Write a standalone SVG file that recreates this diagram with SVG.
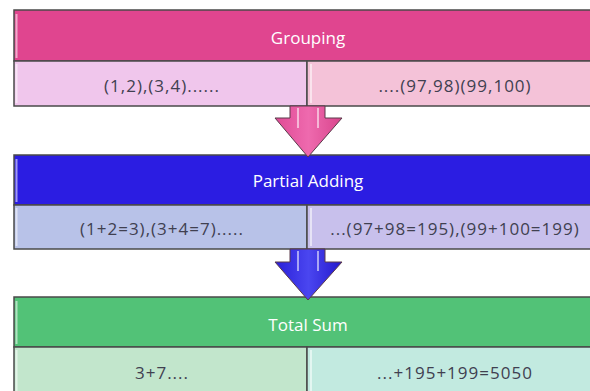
<svg xmlns="http://www.w3.org/2000/svg" width="590" height="391" viewBox="0 0 590 391">
<defs>
<linearGradient id="gPink" x1="0" y1="0" x2="1" y2="0"><stop offset="0" stop-color="#E04A95"/><stop offset="0.5" stop-color="#EE6AAE"/><stop offset="1" stop-color="#D9448C"/></linearGradient>
<linearGradient id="gBlue" x1="0" y1="0" x2="1" y2="0"><stop offset="0" stop-color="#2A1FD8"/><stop offset="0.5" stop-color="#4A46F0"/><stop offset="1" stop-color="#2418CC"/></linearGradient>
</defs>
<style>
.frame{stroke:#4a4a4a;stroke-width:1.5}
.hd{font-family:"Open Sans","Liberation Sans",sans-serif;font-size:17px;fill:#ffffff;text-anchor:middle}
.cell{font-family:"Open Sans","Liberation Sans",sans-serif;font-size:17px;letter-spacing:1px;fill:#404050;text-anchor:middle}
.hl{stroke:#ffffff;stroke-opacity:0.55;stroke-width:2;fill:none}
.arrow{stroke:#5a3a4a;stroke-width:1}
</style>
<rect width="590" height="391" fill="#ffffff"/>
<g id="grouping">
<rect x="14" y="10" width="584" height="51" fill="#E0458F" class="frame"/>
<rect x="14" y="61" width="293" height="45" fill="#F0C6EC" class="frame"/>
<rect x="307" y="61" width="291" height="45" fill="#F4C2D8" class="frame"/>
<line x1="16.5" y1="14" x2="16.5" y2="58" class="hl"/>
<line x1="16.5" y1="64" x2="16.5" y2="103" class="hl"/>
<line x1="311" y1="64" x2="311" y2="103" class="hl"/>
<text x="308" y="44" class="hd">Grouping</text>
<text x="162" y="92" class="cell">(1,2),(3,4)......</text>
<text x="455" y="92" class="cell">....(97,98)(99,100)</text>
</g>
<g id="partial">
<rect x="14" y="155" width="584" height="50" fill="#2B1DE2" class="frame"/>
<rect x="14" y="205" width="293" height="44" fill="#B8C2E8" class="frame"/>
<rect x="307" y="205" width="291" height="44" fill="#C8C0EC" class="frame"/>
<line x1="16.5" y1="159" x2="16.5" y2="202" class="hl"/>
<line x1="16.5" y1="208" x2="16.5" y2="246" class="hl"/>
<line x1="311" y1="208" x2="311" y2="246" class="hl"/>
<text x="308" y="187" class="hd">Partial Adding</text>
<text x="162" y="235" class="cell">(1+2=3),(3+4=7).....</text>
<text x="455" y="235" class="cell">...(97+98=195),(99+100=199)</text>
</g>
<g id="total">
<rect x="14" y="297" width="584" height="50" fill="#52C277" class="frame"/>
<rect x="14" y="347" width="293" height="48" fill="#C2E6CC" class="frame"/>
<rect x="307" y="347" width="291" height="48" fill="#C2EAE0" class="frame"/>
<line x1="16.5" y1="301" x2="16.5" y2="344" class="hl"/>
<line x1="16.5" y1="350" x2="16.5" y2="391" class="hl"/>
<line x1="311" y1="350" x2="311" y2="391" class="hl"/>
<text x="308" y="331" class="hd">Total Sum</text>
<text x="162" y="379" class="cell">3+7....</text>
<text x="455" y="379" class="cell">...+195+199=5050</text>
</g>
<g id="connectors">
<path d="M290 106 L325 106 L325 118 L342 118 L308 157 L275 118 L290 118 Z" fill="url(#gPink)" class="arrow"/>
<line x1="298" y1="108" x2="298" y2="128" class="hl"/>
<line x1="318" y1="108" x2="318" y2="128" class="hl"/>
<path d="M290 249 L325 249 L325 262 L342 262 L308 300 L275 262 L290 262 Z" fill="url(#gBlue)" class="arrow"/>
<line x1="298" y1="251" x2="298" y2="271" class="hl"/>
<line x1="318" y1="251" x2="318" y2="271" class="hl"/>
</g>
</svg>
